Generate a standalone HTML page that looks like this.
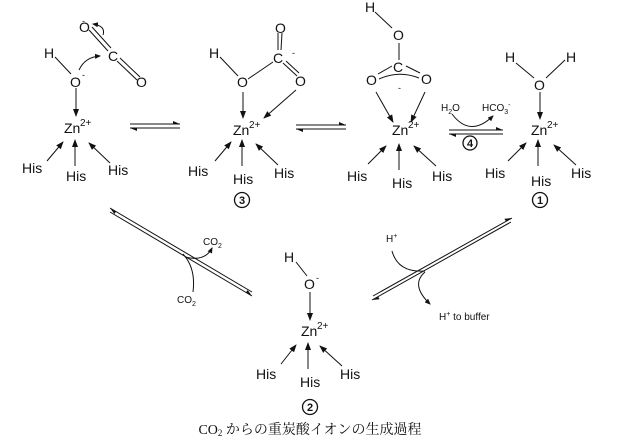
<!DOCTYPE html>
<html><head><meta charset="utf-8"><style>
html,body{margin:0;padding:0;background:#fff;}
svg{display:block;}
text{font-family:"Liberation Sans",sans-serif;fill:#111;}
</style></head><body>
<svg width="619" height="442" viewBox="0 0 619 442" xmlns="http://www.w3.org/2000/svg">
<defs>
<marker id="a" markerWidth="8" markerHeight="8" refX="7" refY="4" orient="auto" markerUnits="userSpaceOnUse"><path d="M0,1 L8,4 L0,7 z" fill="#111"/></marker>
<marker id="s" markerWidth="6" markerHeight="6" refX="5" refY="3" orient="auto" markerUnits="userSpaceOnUse"><path d="M0,0.5 L6,3 L0,5.5 z" fill="#111"/></marker>
<marker id="h" markerWidth="7" markerHeight="4" refX="7" refY="3" orient="auto" markerUnits="userSpaceOnUse"><path d="M0,0 L7,3 L0,3 z" fill="#111"/></marker>
</defs>
<g stroke="#111" stroke-width="1" fill="none">
<!-- Complex A -->
<line x1="55" y1="57" x2="71" y2="74"/>
<line x1="76" y1="88" x2="76" y2="116" marker-end="url(#a)"/>
<line x1="47" y1="161" x2="63" y2="142" marker-end="url(#a)"/>
<line x1="75" y1="166" x2="75" y2="140" marker-end="url(#a)"/>
<line x1="110" y1="163" x2="89" y2="143" marker-end="url(#a)"/>
<line x1="89" y1="30" x2="108" y2="51"/><line x1="92" y1="27" x2="111" y2="48"/>
<line x1="117" y1="61" x2="137" y2="80"/><line x1="120" y1="58" x2="140" y2="77"/>
<path d="M79,70 Q85,57 100,56" marker-end="url(#s)"/>
<path d="M103,35 Q106,26 93,24" marker-end="url(#s)"/>
<!-- Complex B -->
<line x1="220" y1="57" x2="238" y2="76"/>
<line x1="248" y1="79" x2="273" y2="62"/>
<line x1="278" y1="33" x2="278" y2="50"/><line x1="282" y1="33" x2="281" y2="50"/>
<line x1="283" y1="63" x2="297" y2="76"/><line x1="286" y1="61" x2="299" y2="73"/>
<line x1="243" y1="92" x2="243" y2="118" marker-end="url(#a)"/>
<line x1="296" y1="90" x2="264" y2="118" marker-end="url(#a)"/>
<line x1="215" y1="161" x2="231" y2="142" marker-end="url(#a)"/>
<line x1="242" y1="166" x2="242" y2="140" marker-end="url(#a)"/>
<line x1="278" y1="165" x2="256" y2="144" marker-end="url(#a)"/>
<!-- eq A-B -->
<line x1="130" y1="124" x2="180" y2="124" marker-end="url(#h)"/>
<line x1="180" y1="128" x2="130" y2="128" marker-end="url(#h)"/>
<!-- eq B-C -->
<line x1="296" y1="125" x2="346" y2="125" marker-end="url(#h)"/>
<line x1="346" y1="129" x2="296" y2="129" marker-end="url(#h)"/>
<!-- Complex C -->
<line x1="375" y1="12" x2="392" y2="28"/>
<line x1="399" y1="43" x2="399" y2="60"/>
<line x1="378" y1="74" x2="392" y2="66"/>
<line x1="406" y1="66" x2="420" y2="73"/>
<path d="M379,79 Q399,70 419,78"/>
<line x1="376" y1="92" x2="393" y2="122" marker-end="url(#a)"/>
<line x1="425" y1="92" x2="411" y2="122" marker-end="url(#a)"/>
<line x1="368" y1="164" x2="386" y2="146" marker-end="url(#a)"/>
<line x1="399" y1="170" x2="399" y2="144" marker-end="url(#a)"/>
<line x1="436" y1="166" x2="414" y2="146" marker-end="url(#a)"/>
<!-- eq 4 -->
<line x1="449" y1="130" x2="503" y2="130" marker-end="url(#h)"/>
<line x1="503" y1="134" x2="449" y2="134" marker-end="url(#h)"/>
<path d="M452,114 Q470,138 493,116" marker-end="url(#s)"/>
<!-- Complex D -->
<line x1="516" y1="63" x2="534" y2="78"/>
<line x1="565" y1="60" x2="546" y2="78"/>
<line x1="540" y1="92" x2="540" y2="119" marker-end="url(#a)"/>
<line x1="508" y1="161" x2="526" y2="143" marker-end="url(#a)"/>
<line x1="538" y1="166" x2="538" y2="140" marker-end="url(#a)"/>
<line x1="576" y1="165" x2="554" y2="145" marker-end="url(#a)"/>
<!-- diagonals -->
<line x1="110" y1="212" x2="252" y2="296" marker-end="url(#h)"/>
<line x1="252" y1="292" x2="110" y2="208" marker-end="url(#h)"/>
<path d="M185,257 Q205,262 212,248" marker-end="url(#s)"/>
<path d="M193,292 Q196,268 183,254"/>
<line x1="373" y1="296" x2="512" y2="218" marker-end="url(#h)"/>
<line x1="511" y1="222" x2="372" y2="300" marker-end="url(#h)"/>
<path d="M392,251 Q398,273 425,271"/>
<path d="M425,272 Q410,285 430,304" marker-end="url(#s)"/>
<!-- Complex E -->
<line x1="296" y1="262" x2="307" y2="276"/>
<line x1="310" y1="292" x2="310" y2="320" marker-end="url(#a)"/>
<line x1="281" y1="364" x2="296" y2="345" marker-end="url(#a)"/>
<line x1="308" y1="369" x2="308" y2="343" marker-end="url(#a)"/>
<line x1="342" y1="366" x2="320" y2="346" marker-end="url(#a)"/>
<!-- circled numbers -->
<circle cx="242" cy="200" r="7.5" stroke-width="1.3"/><circle cx="470" cy="143" r="7" stroke-width="1.3"/><circle cx="540" cy="200" r="7.5" stroke-width="1.3"/><circle cx="310" cy="407" r="7.5" stroke-width="1.3"/>
</g>
<g font-size="14">
<!-- A -->
<text x="44" y="58">H</text><text x="70" y="87">O</text><text x="82" y="78" font-size="9">-</text>
<text x="79" y="32">O</text><text x="108" y="61">C</text><text x="136" y="87">O</text>
<text x="82" y="24" font-size="9">-</text>
<text x="64" y="133">Zn</text><text x="80" y="126" font-size="10">2+</text>
<text x="22" y="173">His</text><text x="66" y="181">His</text><text x="108" y="175">His</text>
<!-- B -->
<text x="209" y="58">H</text><text x="237" y="87">O</text>
<text x="273" y="63">C</text><text x="275" y="33">O</text><text x="295" y="86">O</text>
<text x="292" y="56" font-size="9">-</text>
<text x="233" y="135">Zn</text><text x="249" y="128" font-size="10">2+</text>
<text x="188" y="176">His</text><text x="233" y="184">His</text><text x="274" y="178">His</text>
<!-- C -->
<text x="365" y="12">H</text><text x="393" y="40">O</text><text x="393" y="72">C</text>
<text x="366" y="85">O</text><text x="421" y="84">O</text><text x="398" y="91" font-size="9">-</text>
<text x="392" y="135">Zn</text><text x="408" y="128" font-size="10">2+</text>
<text x="347" y="181">His</text><text x="392" y="188">His</text><text x="432" y="181">His</text>
<!-- D -->
<text x="505" y="62">H</text><text x="566" y="62">H</text><text x="534" y="90">O</text>
<text x="531" y="135">Zn</text><text x="547" y="128" font-size="10">2+</text>
<text x="485" y="178">His</text><text x="531" y="186">His</text><text x="571" y="178">His</text>
<!-- E -->
<text x="284" y="262">H</text><text x="304" y="289">O</text><text x="316" y="281" font-size="9">-</text>
<text x="301" y="336">Zn</text><text x="317" y="329" font-size="10">2+</text>
<text x="256" y="379">His</text><text x="300" y="387">His</text><text x="340" y="379">His</text>
</g>
<g font-size="10">
<text x="441" y="111">H<tspan font-size="7" dy="3">2</tspan><tspan dy="-3">O</tspan></text>
<text x="482" y="111">HCO<tspan font-size="7" dy="3">3</tspan><tspan font-size="7" dy="-7">-</tspan></text>
<text x="203" y="245">CO<tspan font-size="7" dy="3">2</tspan></text>
<text x="177" y="303">CO<tspan font-size="7" dy="3">2</tspan></text>
<text x="386" y="242">H<tspan font-size="7" dy="-4">+</tspan></text>
<text x="439" y="320">H<tspan font-size="7" dy="-4">+</tspan><tspan dy="4">  to buffer</tspan></text>
</g>
<g font-size="11" font-weight="bold" text-anchor="middle">
<text x="242" y="204">3</text><text x="470" y="147">4</text><text x="540" y="204">1</text><text x="310" y="411">2</text>
</g>
<text x="310" y="434" font-size="14" text-anchor="middle" style="font-family:'Liberation Serif','Noto Serif CJK SC',serif">CO<tspan font-size="9" dy="2">2</tspan><tspan dy="-2"> からの重炭酸イオンの生成過程</tspan></text>
</svg>
</body></html>
